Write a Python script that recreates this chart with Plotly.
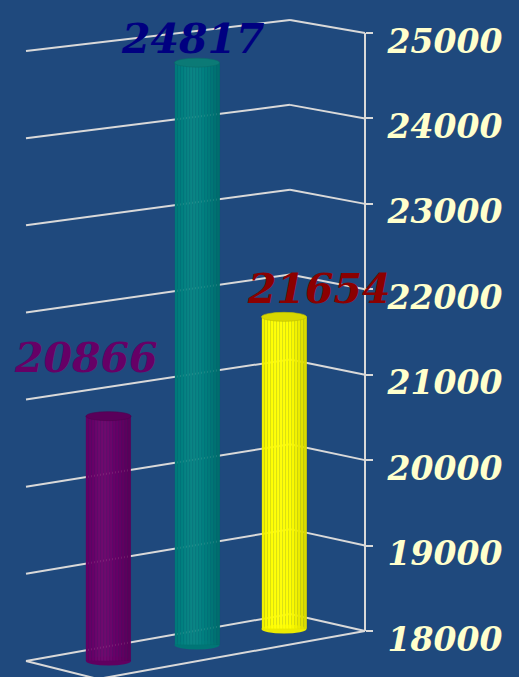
import numpy as np
import plotly.graph_objects as go

# ---------------- data ----------------
categories = ["Series 1", "Series 2", "Series 3"]
values = [20866, 24817, 21654]
bar_colors = ["#680068", "#008080", "#FFFF00"]
cap_colors = ["#5A005A", "#0B7A76", "#D8D800"]
label_colors = ["#660066", "#000080", "#8B0000"]
tick_values = [18000, 19000, 20000, 21000, 22000, 23000, 24000, 25000]
tick_labels = ["18000", "19000", "20000", "21000", "22000", "23000", "24000", "25000"]

# ---------------- layout geometry (pixels) ----------------
W, H = 519, 677
BG = "#1F497D"
GRID = "#D9D9D9"
AX_MIN, AX_MAX = 18000, 25000
TOP_PX, BOT_PX = 33, 631
K = (BOT_PX - TOP_PX) / (AX_MAX - AX_MIN)   # px per unit


def px2val(p):
    return AX_MAX - (p - TOP_PX) / K


# wall edges: (x, y_bottom_px, y_top_px)
edges = [(26, 661, 51), (290, 614, 20), (365, BOT_PX, TOP_PX)]
front_left = (98, 679)

# bar placement (depth) in pixels
bar_cx = [108.5, 197, 284]
bar_floor = [661, 645, 629]
bar_w = 45
n_strips = 15
cap_ry = 4.5 / K


def shade(hexcol, f):
    r, g, b = int(hexcol[1:3], 16), int(hexcol[3:5], 16), int(hexcol[5:7], 16)
    out = []
    for c in (r, g, b):
        if f <= 1:
            v = c * f
        else:
            v = c + (255 - c) * (f - 1)
        out.append(int(max(0, min(255, round(v)))))
    return "rgb(%d,%d,%d)" % tuple(out)


fig = go.Figure()
shapes = []

# gridlines (slanted, projected from tick values)
for v in tick_values:
    t = (v - AX_MIN) / (AX_MAX - AX_MIN)
    pts = []
    for x, yb, yt in edges:
        p = yb + (yt - yb) * t
        pts.append((x, px2val(p)))
    for (x0, y0), (x1, y1) in zip(pts[:-1], pts[1:]):
        shapes.append(dict(type="line", xref="x", yref="y", x0=x0, y0=y0, x1=x1, y1=y1,
                           line=dict(color=GRID, width=2), layer="below"))

# floor front edges
fr = (edges[2][0], px2val(edges[2][1]))
fl = (front_left[0], px2val(front_left[1]))
bl = (edges[0][0], px2val(edges[0][1]))
for (x0, y0), (x1, y1) in [(fr, fl), (fl, bl)]:
    shapes.append(dict(type="line", xref="x", yref="y", x0=x0, y0=y0, x1=x1, y1=y1,
                       line=dict(color=GRID, width=2), layer="below"))
# vertical value axis line
shapes.append(dict(type="line", xref="x", yref="y", x0=365, x1=365, y0=AX_MIN, y1=AX_MAX,
                   line=dict(color=GRID, width=2), layer="below"))

# cylinders
sw = bar_w / n_strips
for i, (cat, val) in enumerate(zip(categories, values)):
    base = px2val(bar_floor[i])
    height = val - AX_MIN
    top = base + height
    xs, cols = [], []
    for j in range(n_strips):
        tt = (j + 0.5) / n_strips
        f = 0.88 + 0.16 * np.cos((tt - 0.4) * np.pi * 0.95)
        xs.append(bar_cx[i] - bar_w / 2 + sw * (j + 0.5))
        cols.append(shade(bar_colors[i], f))
    fig.add_trace(go.Bar(
        x=xs, y=[height] * n_strips, base=[base] * n_strips, width=[sw] * n_strips,
        marker=dict(color=cols, line=dict(width=0.3, color="rgba(0,0,0,0.10)")),
        name=cat, showlegend=False, hoverinfo="skip"))
    # bottom rounding
    shapes.append(dict(type="circle", xref="x", yref="y",
                       x0=bar_cx[i] - bar_w / 2, x1=bar_cx[i] + bar_w / 2,
                       y0=base - cap_ry, y1=base + cap_ry,
                       fillcolor=shade(bar_colors[i], 0.92), line=dict(width=0), layer="below"))
    # top cap
    shapes.append(dict(type="circle", xref="x", yref="y",
                       x0=bar_cx[i] - bar_w / 2, x1=bar_cx[i] + bar_w / 2,
                       y0=top - cap_ry, y1=top + cap_ry,
                       fillcolor=cap_colors[i], line=dict(width=0.6, color=shade(cap_colors[i], 0.88)),
                       layer="above"))

# data labels
label_shift = [(-23, 58), (-4, 24), (35, 28)]
annotations = []
for i, val in enumerate(values):
    base = px2val(bar_floor[i])
    top = base + (val - AX_MIN)
    annotations.append(dict(
        x=bar_cx[i], y=top, xref="x", yref="y", text=str(val), showarrow=False,
        xshift=label_shift[i][0], yshift=label_shift[i][1],
        font=dict(family="DejaVu Serif", size=41, color=label_colors[i],
                  weight="bold", style="italic")))

fig.update_layout(
    width=W, height=H, autosize=False,
    margin=dict(l=0, r=0, t=0, b=0, pad=0),
    paper_bgcolor=BG, plot_bgcolor=BG,
    barmode="overlay", bargap=0,
    showlegend=False,
    shapes=shapes, annotations=annotations,
    xaxis=dict(range=[0, W], visible=False, domain=[0, 1], fixedrange=True),
    yaxis=dict(range=[px2val(H), px2val(0)], side="right", anchor="free",
               position=365 / W, tickvals=tick_values, ticktext=tick_labels,
               showgrid=False, zeroline=False, showline=False,
               ticks="outside", ticklen=7, tickwidth=2, tickcolor=GRID,
               ticklabelstandoff=8, ticklabelshift=8,
               tickfont=dict(family="DejaVu Serif", size=33, color="#FFFFCC",
                             weight="bold", style="italic"),
               fixedrange=True),
)

fig.write_html("out.html", config={"displayModeBar": False},
               post_script="document.body.style.margin='0';document.body.style.overflow='hidden';")
